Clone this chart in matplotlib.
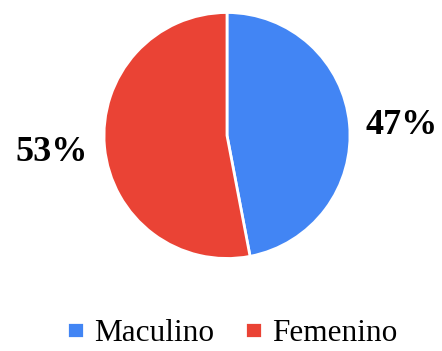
import matplotlib
matplotlib.use("Agg")
import matplotlib.pyplot as plt

# Data
labels = ["Maculino", "Femenino"]
values = [47, 53]
colors = ["#4285F4", "#EA4335"]

plt.rcParams["font.family"] = ["Liberation Serif", "DejaVu Serif"]

fig = plt.figure(figsize=(4.42, 3.51), dpi=100)
ax = fig.add_axes([0, 0, 1, 1])

wedges, texts, autotexts = ax.pie(
    values,
    colors=colors,
    startangle=90,
    counterclock=False,
    autopct="%1.0f%%",
    pctdistance=1.43,
    radius=1.0,
    wedgeprops=dict(edgecolor="white", linewidth=2),
    textprops=dict(fontsize=26, fontweight="bold", color="black"),
)
# nudge the right label down a little
autotexts[0].set_y(autotexts[0].get_position()[1] - 0.05)

# place the pie (radius ~123 px, centre at 227,135 px from top-left)
ax.set_xlim(-227 / 123, (442 - 227) / 123)
ax.set_ylim(-215.5 / 123, 135.5 / 123)
ax.set_aspect("auto")
ax.axis("off")

fig.legend(
    wedges, labels,
    loc="lower center", bbox_to_anchor=(0.525, -0.072),
    ncol=2, frameon=False, fontsize=22.5,
    handlelength=0.55, handleheight=0.4,
    handletextpad=0.3, columnspacing=1.0,
)

fig.savefig("out.png", dpi=100)
